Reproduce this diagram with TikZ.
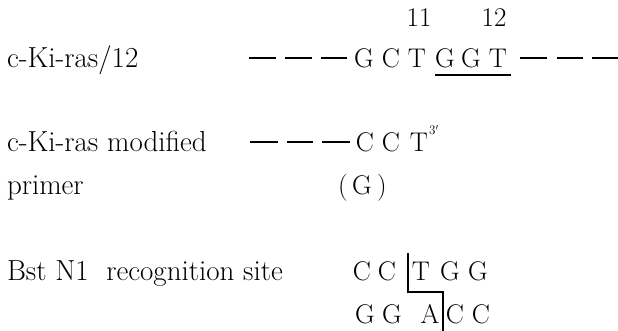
\documentclass[tikz,border=0pt]{standalone}
\begin{document}
\begin{tikzpicture}[x=1pt,y=-1pt,
  txt/.style={inner sep=0pt,outer sep=0pt,font=\fontsize{27}{30}\selectfont},
  lbl/.style={inner sep=0pt,outer sep=0pt,font=\fontsize{29}{32}\selectfont,anchor=base west},
  base/.style={txt,anchor=base},
  dashline/.style={line width=2.2pt},
  thinline/.style={line width=1.4pt}]
\useasboundingbox (0,0) rectangle (618,331);
% Row 1
\node[lbl] (l1) at (7,68) {c-Ki-ras/12};
\foreach \x/\c [count=\i] in {364/G,391/C,417/T,445/G,471/G,498/T}
  \node[base] (r1\i) at (\x,68) {\c};
\node[base] (n11) at (419,27) {11};
\node[base] (n12) at (494,27) {12};
\foreach \a/\b [count=\i] in {249/276,285/312,321/347,520/547,557/583,592/618}{
  \coordinate (d1a\i) at (\a,58); \coordinate (d1b\i) at (\b,58);
  \draw[dashline] (d1a\i) -- (d1b\i);}
\coordinate (u1a) at (435,75); \coordinate (u1b) at (511,75);
\draw[thinline] (u1a) -- (u1b);
% Row 2
\node[lbl] (l2) at (7,152) {c-Ki-ras modified};
\node[lbl] (l3) at (7,195) {primer};
\foreach \x/\c [count=\i] in {365/C,391/C,419/T}
  \node[base] (r2\i) at (\x,152) {\c};
\node[inner sep=0pt,anchor=base west,font=\fontsize{13}{14}\selectfont] (p3) at (429,135) {3$'$};
\node[base] (pgl) at (343,194) {(};
\node[base] (pg) at (362,194) {G};
\node[base] (pgr) at (382,194) {)};
\foreach \a/\b [count=\i] in {250/278,287/313,322/350}{
  \coordinate (d2a\i) at (\a,142); \coordinate (d2b\i) at (\b,142);
  \draw[dashline] (d2a\i) -- (d2b\i);}
% Row 3
\node[lbl] (l4) at (7,280) {Bst N1 \ recognition site};
\foreach \x/\c [count=\i] in {362/C,387/C,421/T,450/G,478/G}
  \node[base] (t\i) at (\x,280) {\c};
\foreach \x/\c [count=\i] in {365/G,392/G,430/A,455/C,481/C}
  \node[base] (b\i) at (\x,323) {\c};
\coordinate (k1) at (408,253); \coordinate (k2) at (408,292);
\coordinate (k3) at (443,292); \coordinate (k4) at (443,331);
\draw[thinline] (k1) -- (k2) -- (k3) -- (k4);
\end{tikzpicture}
\end{document}
